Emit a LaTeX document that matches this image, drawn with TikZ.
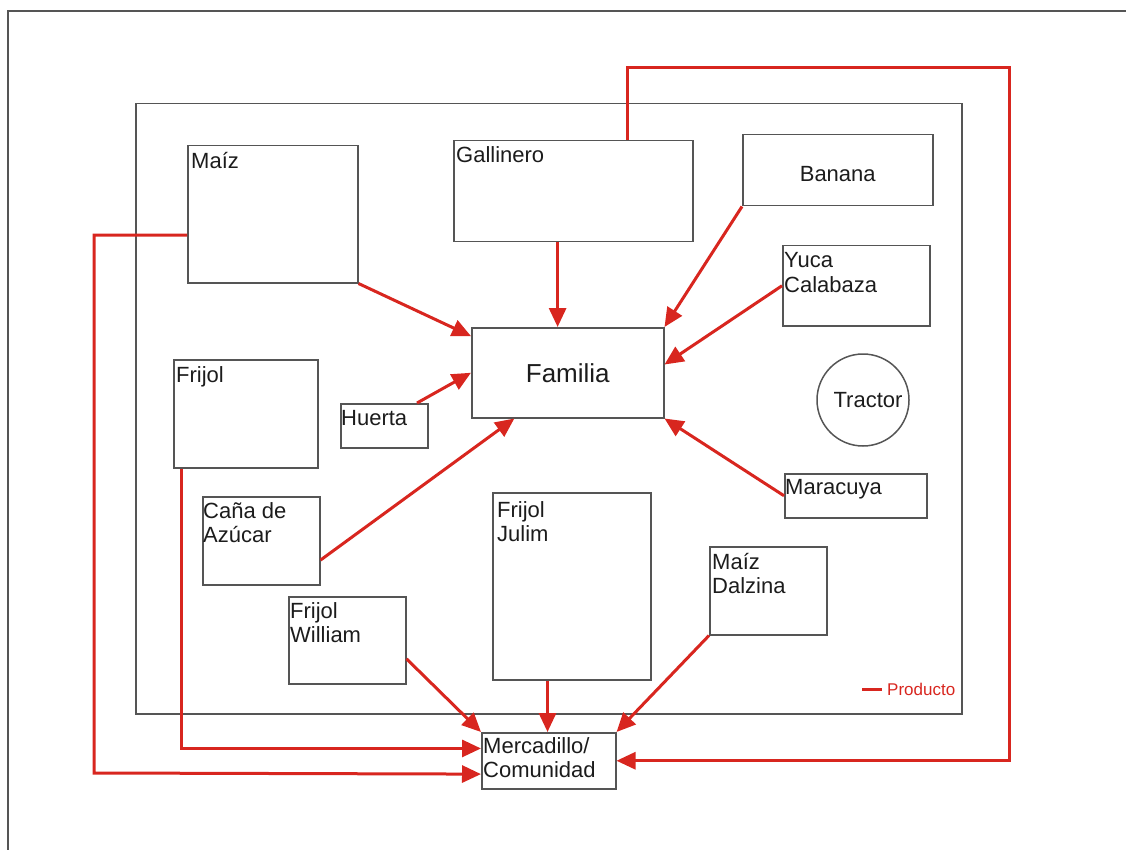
\documentclass[tikz,border=0pt]{standalone}
\usepackage{fontspec}
\setmainfont{Liberation Sans}
\usetikzlibrary{arrows.meta,calc}
\definecolor{prod}{RGB}{216,38,31}
\definecolor{edge}{RGB}{85,85,85}
\definecolor{ink}{RGB}{28,28,28}
\tikzset{
  plot/.style={draw=edge, line width=1.5pt, rectangle, inner sep=0pt, anchor=north west},
  tag/.style={anchor=base west, inner sep=0pt, align=left, text=ink,
    font=\fontsize{22}{24.5}\selectfont},
  word/.style={inner sep=0pt, text=ink, font=\fontsize{22}{24.5}\selectfont},
  flow/.style={draw=prod, line width=3pt, -{Triangle[length=19pt,width=17pt]}},
  link/.style={draw=prod, line width=3pt},
}
\begin{document}
\begin{tikzpicture}[x=1pt,y=-1pt]
\useasboundingbox (0,0) rectangle (1126,850);
% page frame (top and left edges)
\draw[edge, line width=1.5pt] (8,850) -- (8,11) -- (1126,11);
% farm boundary
\node[plot, minimum width=826pt, minimum height=610pt] (farm) at (135,103) {};

% plots and buildings (two-line tags are placed by the baseline of their last line)
\node[plot, minimum width=170pt, minimum height=137pt] (maiz) at (187,145) {};
\node[tag] (maizT) at ([xshift=4pt,yshift=-24pt]maiz.north west) {Maíz};

\node[plot, minimum width=239pt, minimum height=101pt] (gall) at (453,140) {};
\node[tag] (gallT) at ([xshift=3pt,yshift=-23pt]gall.north west) {Gallinero};

\node[plot, minimum width=190pt, minimum height=71pt] (banana) at (742,134) {};
\node[word] (bananaT) at ([yshift=-4pt]banana.center) {Banana};

\node[plot, minimum width=147pt, minimum height=80pt] (yuca) at (782,245) {};
\node[tag] (yucaT) at ([xshift=2pt,yshift=-47pt]yuca.north west) {Yuca\\Calabaza};

\node[draw=edge, line width=1.5pt, circle, minimum size=92pt, inner sep=0pt] (tractor) at (863,400) {};
\node[word] (tractorT) at ([xshift=5pt]tractor.center) {Tractor};

\node[plot, minimum width=142pt, minimum height=44pt] (mara) at (784,473) {};
\node[tag] (maraT) at ([xshift=1pt,yshift=-21pt]mara.north west) {Maracuya};

\node[plot, minimum width=192pt, minimum height=90pt] (familia) at (471,327) {};
\node[word, font=\fontsize{26}{30}\selectfont] (familiaT) at (familia.center) {Familia};

\node[plot, minimum width=144pt, minimum height=108pt] (frijol) at (173,359) {};
\node[tag] (frijolT) at ([xshift=3pt,yshift=-23pt]frijol.north west) {Frijol};

\node[plot, minimum width=87pt, minimum height=44pt] (huerta) at (340,403) {};
\node[tag] (huertaT) at ([xshift=1pt,yshift=-22pt]huerta.north west) {Huerta};

\node[plot, minimum width=117pt, minimum height=88pt] (cana) at (202,496) {};
\node[tag] (canaT) at ([xshift=1pt,yshift=-46.5pt]cana.north west) {Caña de\\Azúcar};

\node[plot, minimum width=117pt, minimum height=87pt] (william) at (288,596) {};
\node[tag] (williamT) at ([xshift=2pt,yshift=-46.5pt]william.north west) {Frijol\\William};

\node[plot, minimum width=158pt, minimum height=187pt] (julim) at (492,492) {};
\node[tag] (julimT) at ([xshift=5pt,yshift=-49.5pt]julim.north west) {Frijol\\Julim};

\node[plot, minimum width=117pt, minimum height=88pt] (dalzina) at (709,546) {};
\node[tag] (dalzinaT) at ([xshift=3pt,yshift=-47.5pt]dalzina.north west) {Maíz\\Dalzina};

\node[plot, minimum width=134pt, minimum height=56pt] (merc) at (481,732) {};
\node[tag] (mercT) at ([xshift=2pt,yshift=-45.5pt]merc.north west) {Mercadillo/\\Comunidad};

% legend
\coordinate (legA) at (862,689);
\node[anchor=west, inner sep=0pt, text=prod, font=\fontsize{17}{20}\selectfont] (leg) at (887,689) {Producto};
\draw[link] (legA) -- ([xshift=-5pt]leg.west);

% product flows to the family
\draw[flow] (maiz.south east) -- ($(familia.north west)!0.1!(familia.south west)$);
\coordinate (gallB) at ($(gall.south west)!0.435!(gall.south east)$);
\draw[flow] (gallB) -- (gallB |- familia.north);
\draw[flow] (banana.south west) -- (familia.north east);
\draw[flow] (yuca.west) -- ($(familia.north east)!0.41!(familia.south east)$);
\draw[flow] (mara.west) -- (familia.south east);
\draw[flow] ($(huerta.north west)!0.87!(huerta.north east)$) -- (familia.west);
\draw[flow] ($(cana.north east)!0.716!(cana.south east)$) -- ($(familia.south west)!0.224!(familia.south east)$);

% product flows to the market
\draw[flow] ($(william.north east)!0.71!(william.south east)$) -- (merc.north west);
\coordinate (julB) at ($(julim.south west)!0.348!(julim.south east)$);
\draw[flow] (julB) -- (julB |- merc.north);
\draw[flow] (dalzina.south west) -- (merc.north east);

\coordinate (frB) at ($(frijol.south west)!0.056!(frijol.south east)$);
\coordinate (mercL1) at ($(merc.north west)!0.286!(merc.south west)$);
\draw[flow] (frB) |- (mercL1);

\coordinate (maizL) at ($(maiz.north west)!0.65!(maiz.south west)$);
\coordinate (wl) at (94,773);
\coordinate (mercL2) at ($(merc.north west)!0.732!(merc.south west)$);
\draw[flow] (maizL) -| (wl) -- (mercL2);

\coordinate (gallTop) at ($(gall.north west)!0.724!(gall.north east)$);
\coordinate (ne) at (1009,68);
\draw[flow] (gallTop) |- (ne) |- (merc.east);
\end{tikzpicture}
\end{document}
